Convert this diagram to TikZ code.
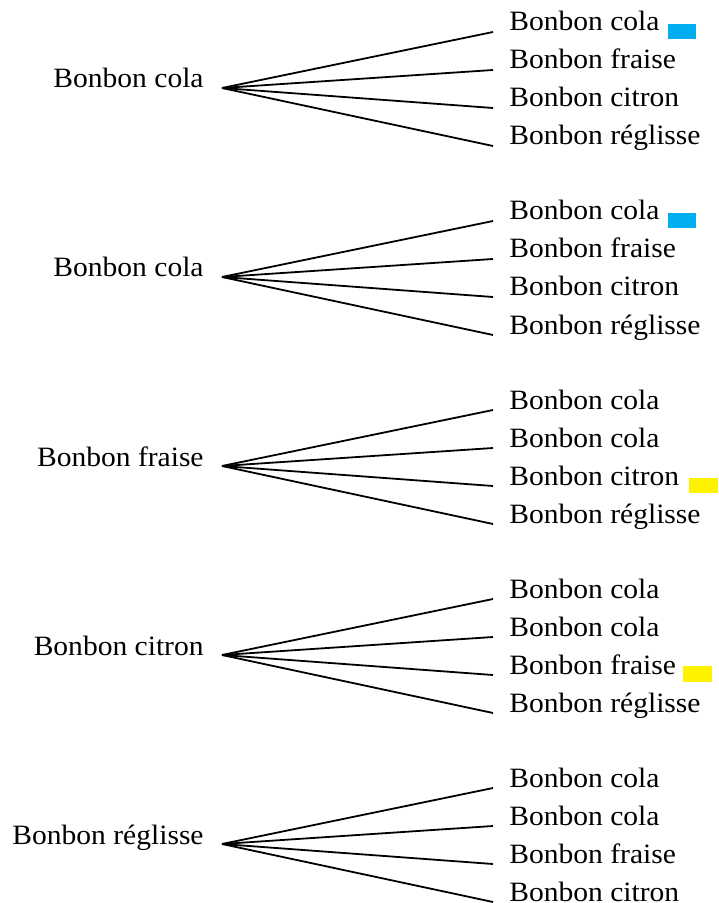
\documentclass[tikz,border=0pt]{standalone}
\usepackage{fontspec}
\setmainfont[FakeStretch=1.055]{Liberation Serif}
\definecolor{candyblue}{HTML}{00AEEF}
\definecolor{candyyellow}{HTML}{FFF200}
\begin{document}
\begin{tikzpicture}[x=0.5pt,y=-0.5pt,
  lbl/.style={inner sep=0pt,font=\fontsize{14}{16}\selectfont},
  rootlbl/.style={lbl,anchor=base east},
  leaflbl/.style={lbl,anchor=base west},
  branch/.style={line width=0.9pt}]
\fill[white] (0,0) rectangle (718,903);
\useasboundingbox (0,0) rectangle (718,903);
\foreach \g/\r/\a/\b/\c/\d in {0/Bonbon cola/Bonbon cola/Bonbon fraise/Bonbon citron/Bonbon réglisse,
  1/Bonbon cola/Bonbon cola/Bonbon fraise/Bonbon citron/Bonbon réglisse,
  2/Bonbon fraise/Bonbon cola/Bonbon cola/Bonbon citron/Bonbon réglisse,
  3/Bonbon citron/Bonbon cola/Bonbon cola/Bonbon fraise/Bonbon réglisse,
  4/Bonbon réglisse/Bonbon cola/Bonbon cola/Bonbon fraise/Bonbon citron}{
  \pgfmathsetmacro{\oy}{\g*189}
  \node[rootlbl] (root\g) at (204,88+\oy) {\r};
  \coordinate (rp\g) at (222,88+\oy);
  \foreach \k/\t in {0/\a,1/\b,2/\c,3/\d}{
    \node[leaflbl] (leaf\g\k) at (509,31+\k*38+\oy) {\t};
    \coordinate (lp\g\k) at (493,32+\k*38+\oy);
    \draw[branch] (rp\g) -- (lp\g\k);
  }
}
\fill[candyblue] (668,24) rectangle (696,39);
\fill[candyblue] (668,213) rectangle (696,228);
\fill[candyyellow] (689,478) rectangle (718,493);
\fill[candyyellow] (683,666) rectangle (712,682);
\end{tikzpicture}
\end{document}
